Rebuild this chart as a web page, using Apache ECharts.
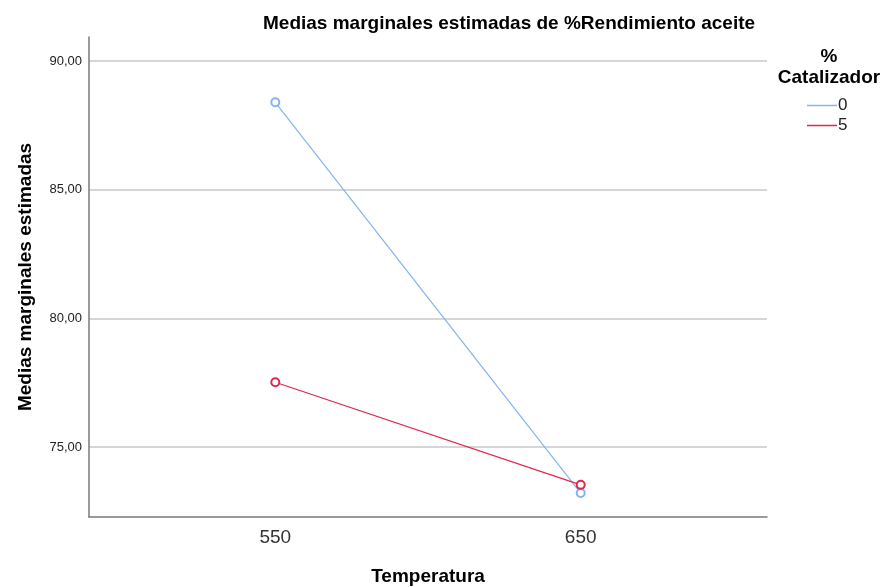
<!DOCTYPE html>
<html>
<head>
<meta charset="utf-8">
<script src="https://cdn.jsdelivr.net/npm/echarts@6/dist/echarts.min.js"></script>
<style>
  html, body { margin: 0; padding: 0; background: #fff; }
  #chart { width: 885px; height: 587px; }
</style>
</head>
<body>
<div id="chart"></div>
<script>
// temperaturas (eje x) y medias estimadas por % catalizador
var temperaturas = [550, 650];
var catalizador = ['0', '5'];
var medias0 = [88.40, 73.21];
var medias5 = [77.52, 73.53];
var yTicks = [75, 80, 85, 90];

var font = '"Liberation Sans", Arial, sans-serif';

function pares(vals) {
  return temperaturas.map(function (t, i) { return [t, vals[i]]; });
}

var myChart = echarts.init(document.getElementById('chart'));
myChart.setOption({
  animation: false,
  backgroundColor: '#fff',
  title: [
    {
      text: 'Medias marginales estimadas de %Rendimiento aceite',
      left: 258, top: 9,
      textStyle: { fontFamily: font, fontSize: 19, fontWeight: 'bold', color: '#000' }
    },
    {
      text: '%\nCatalizador',
      left: 824, top: 41, textAlign: 'center',
      textStyle: { fontFamily: font, fontSize: 19, fontWeight: 'bold', color: '#000', lineHeight: 21, align: 'center' }
    }
  ],
  legend: {
    orient: 'vertical',
    left: 802, top: 92,
    itemWidth: 30, itemHeight: 1.5, itemGap: 3,
    icon: 'rect',
    data: catalizador,
    textStyle: { fontFamily: font, fontSize: 17, color: '#222', padding: [0, 0, 0, -4] }
  },
  grid: { left: 89, right: 118, top: 37, bottom: 70, outerBoundsMode: 'none' },
  xAxis: {
    type: 'value',
    min: 489, max: 711,
    name: 'Temperatura',
    nameLocation: 'middle', nameGap: 50,
    nameTextStyle: { fontFamily: font, fontSize: 19, fontWeight: 'bold', color: '#000' },
    axisLine: { lineStyle: { color: '#7a7a7a', width: 1.5 } },
    axisTick: { show: false, customValues: temperaturas },
    axisLabel: { customValues: temperaturas, margin: 11, fontFamily: font, fontSize: 19, color: '#333' },
    splitLine: { show: false }
  },
  yAxis: {
    type: 'value',
    min: 72.28, max: 90.94,
    name: 'Medias marginales estimadas',
    nameLocation: 'middle', nameGap: 54,
    nameTextStyle: { fontFamily: font, fontSize: 19, fontWeight: 'bold', color: '#000' },
    axisLine: { show: true, lineStyle: { color: '#7a7a7a', width: 1.5 } },
    axisTick: { show: false, customValues: yTicks },
    axisLabel: {
      customValues: yTicks, margin: 7, fontFamily: font, fontSize: 13, color: '#222',
      formatter: function (v) { return v.toFixed(2).replace('.', ','); }
    },
    splitLine: { show: true, lineStyle: { color: '#c8c8c8', width: 1.5 } }
  },
  series: [
    {
      name: '0', type: 'line', data: pares(medias0),
      symbol: 'emptyCircle', symbolSize: 8,
      lineStyle: { color: '#84b4ee', width: 1.2 },
      itemStyle: { color: '#84b4ee', borderWidth: 1.3 }
    },
    {
      name: '5', type: 'line', data: pares(medias5),
      symbol: 'emptyCircle', symbolSize: 8,
      lineStyle: { color: '#e0264c', width: 1.2 },
      itemStyle: { color: '#e0264c', borderWidth: 1.3 }
    }
  ]
});
</script>
</body>
</html>
